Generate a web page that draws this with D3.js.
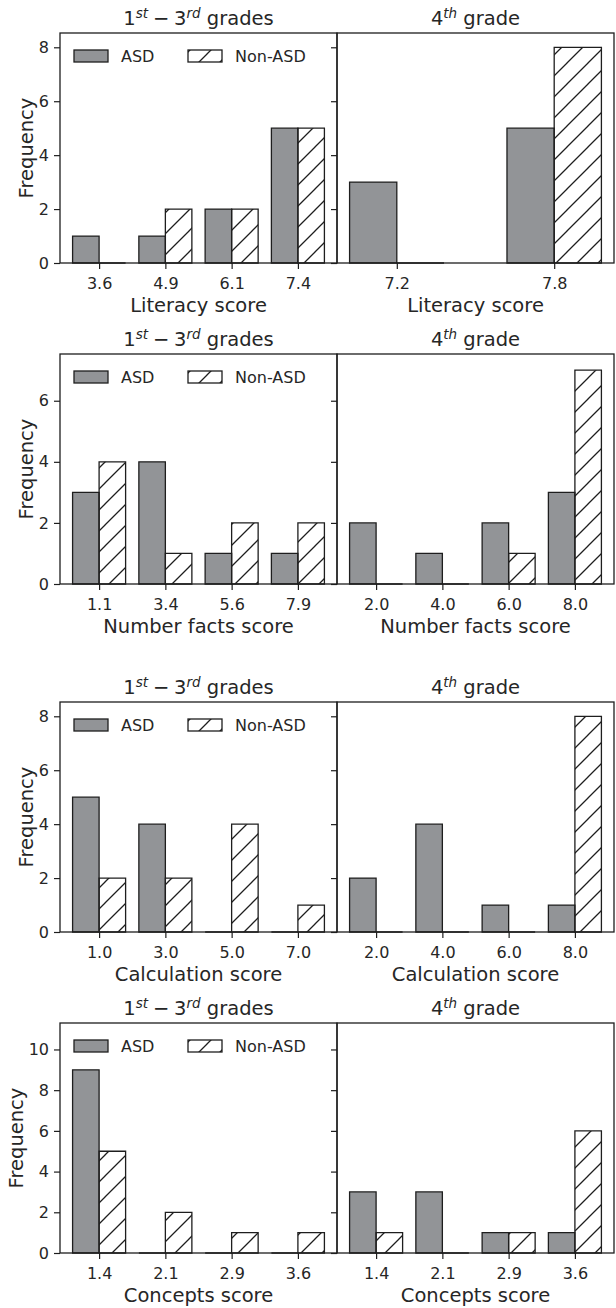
<!DOCTYPE html>
<html>
<head>
<meta charset="utf-8">
<script src="https://cdn.jsdelivr.net/npm/d3@7"></script>
<style>
  body { margin: 0; background: #fff; }
  svg text { font-family: "DejaVu Sans", sans-serif; fill: #262626; }
</style>
</head>
<body>
<svg id="chart" width="616" height="1308"></svg>
<script>
// ---- data ----
const literacyLowCats = ["3.6", "4.9", "6.1", "7.4"];
const literacyLowAsd  = [1, 1, 2, 5];
const literacyLowNon  = [0, 2, 2, 5];
const literacyG4Cats  = ["7.2", "7.8"];
const literacyG4Asd   = [3, 5];
const literacyG4Non   = [0, 8];

const factsLowCats = ["1.1", "3.4", "5.6", "7.9"];
const factsLowAsd  = [3, 4, 1, 1];
const factsLowNon  = [4, 1, 2, 2];
const factsG4Cats  = ["2.0", "4.0", "6.0", "8.0"];
const factsG4Asd   = [2, 1, 2, 3];
const factsG4Non   = [0, 0, 1, 7];

const calcLowCats = ["1.0", "3.0", "5.0", "7.0"];
const calcLowAsd  = [5, 4, 0, 0];
const calcLowNon  = [2, 2, 4, 1];
const calcG4Cats  = ["2.0", "4.0", "6.0", "8.0"];
const calcG4Asd   = [2, 4, 1, 1];
const calcG4Non   = [0, 0, 0, 8];

const conceptsLowCats = ["1.4", "2.1", "2.9", "3.6"];
const conceptsLowAsd  = [9, 0, 0, 0];
const conceptsLowNon  = [5, 2, 1, 1];
const conceptsG4Cats  = ["1.4", "2.1", "2.9", "3.6"];
const conceptsG4Asd   = [3, 3, 1, 1];
const conceptsG4Non   = [1, 0, 1, 6];

const rowLabels = ["Literacy score", "Number facts score", "Calculation score", "Concepts score"];
const rowYTicks = [[0, 2, 4, 6, 8], [0, 2, 4, 6], [0, 2, 4, 6, 8], [0, 2, 4, 6, 8, 10]];
const rowYMax   = [8.53, 7.53, 8.53, 11.3];
const legendLabels = ["ASD", "Non-ASD"];

// ---- layout ----
const rowTops = [33, 354, 702, 1023];
const plotH   = 230;
const panelX  = [[60, 337], [337, 614]];
const ink     = "#1e1e1e";
const asdFill = "#929497";

const rows = [
  [{ cats: literacyLowCats, asd: literacyLowAsd, non: literacyLowNon },
   { cats: literacyG4Cats,  asd: literacyG4Asd,  non: literacyG4Non }],
  [{ cats: factsLowCats, asd: factsLowAsd, non: factsLowNon },
   { cats: factsG4Cats,  asd: factsG4Asd,  non: factsG4Non }],
  [{ cats: calcLowCats, asd: calcLowAsd, non: calcLowNon },
   { cats: calcG4Cats,  asd: calcG4Asd,  non: calcG4Non }],
  [{ cats: conceptsLowCats, asd: conceptsLowAsd, non: conceptsLowNon },
   { cats: conceptsG4Cats,  asd: conceptsG4Asd,  non: conceptsG4Non }]
];

const svg = d3.select("#chart");

// hatch "/" pattern, anchored to page so it runs continuously
const hs = 21;
svg.append("defs").append("pattern")
    .attr("id", "hatch")
    .attr("patternUnits", "userSpaceOnUse")
    .attr("width", hs).attr("height", hs)
  .append("path")
    .attr("d", `M-1,${hs + 1} L${hs + 1},-1 M-2,2 L2,-2 M${hs - 2},${hs + 2} L${hs + 2},${hs - 2}`)
    .attr("stroke", ink)
    .attr("stroke-width", 1.3);

function barPath(x0, x1, y0, y1) {
  return `M${x0},${y0}H${x1}V${y1}H${x0}Z`;
}

function drawTitle(cx, y, isLow) {
  const t = svg.append("text")
    .attr("x", cx).attr("y", y)
    .attr("text-anchor", "middle")
    .style("font-size", "19.5px");
  const sup = (s) => t.append("tspan").text(s)
    .attr("dy", -7).style("font-size", "13.5px").style("font-style", "italic");
  const down = (s) => t.append("tspan").text(s).attr("dy", 7);
  if (isLow) {
    t.append("tspan").text("1");
    sup("st");
    down("\u2005\u2212\u20053");
    sup("rd");
    down(" grades");
  } else {
    t.append("tspan").text("4");
    sup("th");
    down(" grade");
  }
}

function drawPanel(panel, p, r) {
  const [x0, x1] = panelX[p];
  const top = rowTops[r];
  const bottom = top + plotH;
  const n = panel.cats.length;
  const w = n > 2 ? 0.4 : 0.3;
  const m = 0.05 * (n - 1 + 2 * w);

  const x = d3.scaleLinear().domain([-w - m, n - 1 + w + m]).range([x0, x1]);
  const y = d3.scaleLinear().domain([0, rowYMax[r]]).range([bottom, top]);

  const g = svg.append("g");

  // bars
  const idx = d3.range(n);
  g.selectAll(".asd").data(idx).join("path")
    .attr("d", i => barPath(x(i - w), x(i), y(0), y(panel.asd[i])))
    .attr("fill", asdFill).attr("stroke", ink).attr("stroke-width", 1.3);
  g.selectAll(".non").data(idx).join("path")
    .attr("d", i => barPath(x(i), x(i + w), y(0), y(panel.non[i])))
    .attr("fill", "url(#hatch)").attr("stroke", ink).attr("stroke-width", 1.3);

  // x axis
  const xa = g.append("g")
    .attr("transform", `translate(0,${bottom})`)
    .call(d3.axisBottom(x).tickValues(idx).tickFormat(i => panel.cats[i]).tickSize(6).tickPadding(9));
  xa.select(".domain").remove();
  xa.selectAll("line").attr("stroke", ink).attr("stroke-width", 1.2);
  xa.selectAll("text").attr("fill", null).style("font-size", "16px");
  xa.attr("font-family", null).attr("font-size", null);

  // y axis (labels only on left panel)
  const ya = g.append("g")
    .attr("transform", `translate(${x0},0)`)
    .call(d3.axisLeft(y).tickValues(rowYTicks[r]).tickSize(6).tickPadding(5)
      .tickFormat(p === 0 ? d3.format("d") : () => ""));
  ya.select(".domain").remove();
  ya.selectAll("line").attr("stroke", ink).attr("stroke-width", 1.2);
  ya.selectAll("text").attr("fill", null).style("font-size", "16px");
  ya.attr("font-family", null).attr("font-size", null);

  // frame
  g.append("rect")
    .attr("x", x0).attr("y", top).attr("width", x1 - x0).attr("height", plotH)
    .attr("fill", "none").attr("stroke", ink).attr("stroke-width", 1.3);

  // x label
  g.append("text")
    .attr("x", (x0 + x1) / 2).attr("y", bottom + 48.5)
    .attr("text-anchor", "middle").style("font-size", "19.5px")
    .text(rowLabels[r]);

  drawTitle((x0 + x1) / 2, top - 8.5, p === 0);

  if (p === 0) {
    // y label, placed left of the widest tick label
    let maxW = 0;
    ya.selectAll("text").each(function () { maxW = Math.max(maxW, this.getComputedTextLength()); });
    const lx = x0 - 6 - 5 - maxW - 5.5;
    g.append("text")
      .attr("transform", `translate(${lx},${(top + bottom) / 2}) rotate(-90)`)
      .attr("text-anchor", "middle").style("font-size", "19.5px")
      .text("Frequency");

    // legend
    const lg = g.append("g").attr("transform", `translate(${x0},${top})`);
    const items = [
      { label: legendLabels[0], fill: asdFill, dx: 14 },
      { label: legendLabels[1], fill: "url(#hatch)", dx: 128 }
    ];
    items.forEach(it => {
      lg.append("rect")
        .attr("x", it.dx).attr("y", 17).attr("width", 34).attr("height", 12)
        .attr("fill", it.fill).attr("stroke", ink).attr("stroke-width", 1.3);
      lg.append("text")
        .attr("x", it.dx + 47).attr("y", 23).attr("dy", "0.36em")
        .style("font-size", "16px")
        .text(it.label);
    });
  }
}

rows.forEach((row, r) => row.forEach((panel, p) => drawPanel(panel, p, r)));
</script>
</body>
</html>
